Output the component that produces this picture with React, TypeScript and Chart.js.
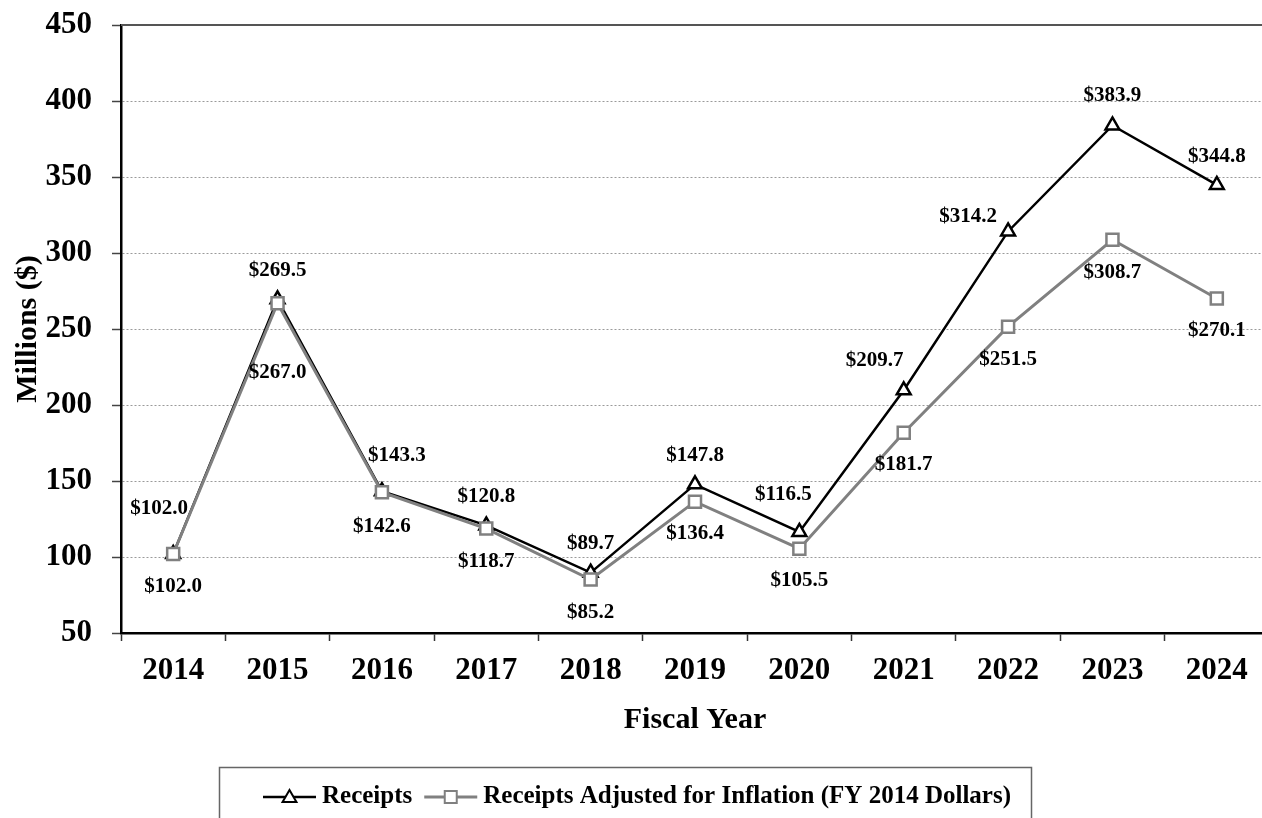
import React, { useEffect, useRef } from 'react';
import { Chart, registerables } from 'chart.js';

Chart.register(...registerables);

const years = ['2014', '2015', '2016', '2017', '2018', '2019', '2020', '2021', '2022', '2023', '2024'];
const receipts = [102.0, 269.5, 143.3, 120.8, 89.7, 147.8, 116.5, 209.7, 314.2, 383.9, 344.8];
const adjusted = [102.0, 267.0, 142.6, 118.7, 85.2, 136.4, 105.5, 181.7, 251.5, 308.7, 270.1];
const yTicks = [50, 100, 150, 200, 250, 300, 350, 400, 450];
const seriesNames = ['Receipts', 'Receipts Adjusted for Inflation (FY 2014 Dollars)'];
const xTitle = 'Fiscal Year';
const yTitle = 'Millions ($)';

// label placement relative to each point (px)
const receiptLabelOffsets = [[-14, -45], [0, -29], [15, -36], [0, -29], [0, -29], [0, -29], [-16, -37], [-29, -30], [-40, -15], [0, -30], [0, -28]];
const adjustedLabelOffsets = [[0, 33], [0, 69], [0, 34], [0, 33], [0, 33], [0, 32], [0, 32], [0, 32], [0, 33], [0, 33], [0, 32]];

const FONT = '"Liberation Serif", "Times New Roman", serif';
const BLACK = '#000000';
const GRAY = '#808080';

const topBorderPlugin = {
  id: 'topBorder',
  beforeDatasetsDraw(chart: any) {
    const { ctx, chartArea } = chart;
    ctx.save();
    ctx.strokeStyle = '#555555';
    ctx.lineWidth = 2;
    ctx.beginPath();
    ctx.moveTo(chartArea.left, chartArea.top);
    ctx.lineTo(chartArea.right + 20, chartArea.top);
    ctx.stroke();
    ctx.restore();
  },
};

const valueLabelPlugin = {
  id: 'valueLabels',
  afterDatasetsDraw(chart: any) {
    const ctx = chart.ctx;
    ctx.save();
    ctx.font = `bold 21px ${FONT}`;
    ctx.fillStyle = BLACK;
    ctx.textAlign = 'center';
    ctx.textBaseline = 'middle';
    const offsets = [receiptLabelOffsets, adjustedLabelOffsets];
    offsets.forEach((offs, di) => {
      const meta = chart.getDatasetMeta(di);
      meta.data.forEach((pt: any, i: number) => {
        const v = chart.data.datasets[di].data[i] as number;
        ctx.fillText('$' + v.toFixed(1), pt.x + offs[i][0], pt.y + offs[i][1]);
      });
    });
    ctx.restore();
  },
};

function drawTriangle(ctx: CanvasRenderingContext2D, x: number, y: number, r: number) {
  ctx.beginPath();
  ctx.moveTo(x, y - r);
  ctx.lineTo(x + r * Math.sin(Math.PI / 3), y + r * 0.5);
  ctx.lineTo(x - r * Math.sin(Math.PI / 3), y + r * 0.5);
  ctx.closePath();
}

const legendPlugin = {
  id: 'boxLegend',
  afterDraw(chart: any) {
    const ctx: CanvasRenderingContext2D = chart.ctx;
    const boxLeft = 219;
    const boxTop = 767;
    const boxW = 812;
    const boxH = 62;
    ctx.save();
    ctx.strokeStyle = '#666666';
    ctx.lineWidth = 1.5;
    ctx.strokeRect(boxLeft + 0.5, boxTop + 0.5, boxW, boxH);

    const cy = boxTop + 30;
    ctx.font = `bold 25px ${FONT}`;
    ctx.textBaseline = 'middle';
    ctx.textAlign = 'left';
    let x = boxLeft + 44;
    const lineLen = 53;
    const styles = [
      { color: BLACK, width: 2.5, marker: 'triangle' },
      { color: GRAY, width: 3, marker: 'rect' },
    ];
    seriesNames.forEach((name, i) => {
      const st = styles[i];
      ctx.strokeStyle = st.color;
      ctx.lineWidth = st.width;
      ctx.beginPath();
      ctx.moveTo(x, cy);
      ctx.lineTo(x + lineLen, cy);
      ctx.stroke();
      const mx = x + lineLen / 2;
      ctx.fillStyle = '#ffffff';
      ctx.lineWidth = 2;
      if (st.marker === 'triangle') {
        drawTriangle(ctx, mx, cy + 1, 8);
      } else {
        ctx.beginPath();
        ctx.rect(mx - 6, cy - 6, 12, 12);
      }
      ctx.fill();
      ctx.stroke();
      ctx.fillStyle = BLACK;
      ctx.fillText(name, x + lineLen + 6, cy);
      x = x + lineLen + 6 + ctx.measureText(name).width + 12;
    });
    ctx.restore();
  },
};

export default function App() {
  const canvasRef = useRef<HTMLCanvasElement | null>(null);

  useEffect(() => {
    if (!canvasRef.current) return;
    Chart.defaults.color = BLACK;
    const chart = new Chart(canvasRef.current, {
      type: 'line',
      data: {
        labels: years,
        datasets: [
          {
            label: seriesNames[0],
            data: receipts,
            borderColor: BLACK,
            borderWidth: 2.5,
            pointStyle: 'triangle',
            pointRadius: 8,
            pointBorderWidth: 2.5,
            pointBackgroundColor: '#ffffff',
            pointBorderColor: BLACK,
            tension: 0,
            order: 1,
          },
          {
            label: seriesNames[1],
            data: adjusted,
            borderColor: GRAY,
            borderWidth: 3,
            pointStyle: 'rect',
            pointRadius: 8.5,
            pointBorderWidth: 2.5,
            pointBackgroundColor: '#ffffff',
            pointBorderColor: GRAY,
            tension: 0,
            order: 0,
          },
        ],
      },
      options: {
        responsive: false,
        animation: false,
        devicePixelRatio: 1,
        layout: { padding: { left: 0, right: 8.4, top: 25, bottom: 0 } },
        plugins: {
          legend: { display: false },
          tooltip: { enabled: false },
        },
        scales: {
          x: {
            type: 'category',
            offset: true,
            grid: {
              display: true,
              offset: true,
              drawOnChartArea: false,
              drawTicks: true,
              tickLength: 8,
              tickColor: '#333333',
              tickWidth: 1.5,
            },
            border: { display: true, color: BLACK, width: 2.5 },
            ticks: {
              color: BLACK,
              padding: 11,
              maxRotation: 0,
              font: { family: FONT, size: 31, weight: 'bold' },
            },
            title: {
              display: true,
              text: xTitle,
              color: BLACK,
              font: { family: FONT, size: 30, weight: 'bold' },
              padding: { top: 0, bottom: 92 },
            },
            afterFit: (scale: any) => {
              scale.height = 197;
              scale.paddingLeft = 0;
              scale.paddingRight = 0;
            },
          },
          y: {
            min: 50,
            max: 450,
            afterBuildTicks: (scale: any) => {
              scale.ticks = yTicks.map((v) => ({ value: v }));
            },
            grid: {
              color: (ctx: any) =>
                ctx.tick && (ctx.tick.value === 450 || ctx.tick.value === 50) ? 'rgba(0,0,0,0)' : '#9a9a9a',
              lineWidth: 1,
              tickColor: '#444444',
              tickWidth: 1.5,
              tickLength: 9,
              drawTicks: true,
            },
            border: { display: true, color: BLACK, width: 2.5, dash: [2, 2] },
            ticks: {
              color: BLACK,
              padding: 20,
              font: { family: FONT, size: 31, weight: 'bold' },
            },
            title: {
              display: true,
              text: yTitle,
              color: BLACK,
              font: { family: FONT, size: 30, weight: 'bold' },
              padding: { top: 10, bottom: 0 },
            },
            afterFit: (scale: any) => {
              scale.width = 121;
              scale.paddingTop = 0;
              scale.paddingBottom = 0;
            },
          },
        },
      },
      plugins: [topBorderPlugin, valueLabelPlugin, legendPlugin],
    } as any);
    return () => {
      chart.destroy();
    };
  }, []);

  return (
    <div
      style={{
        position: 'fixed',
        left: 0,
        top: 0,
        width: 1262,
        height: 818,
        overflow: 'hidden',
        background: '#ffffff',
      }}
    >
      <canvas ref={canvasRef} width={1280} height={830} style={{ width: 1280, height: 830, display: 'block' }} />
    </div>
  );
}
